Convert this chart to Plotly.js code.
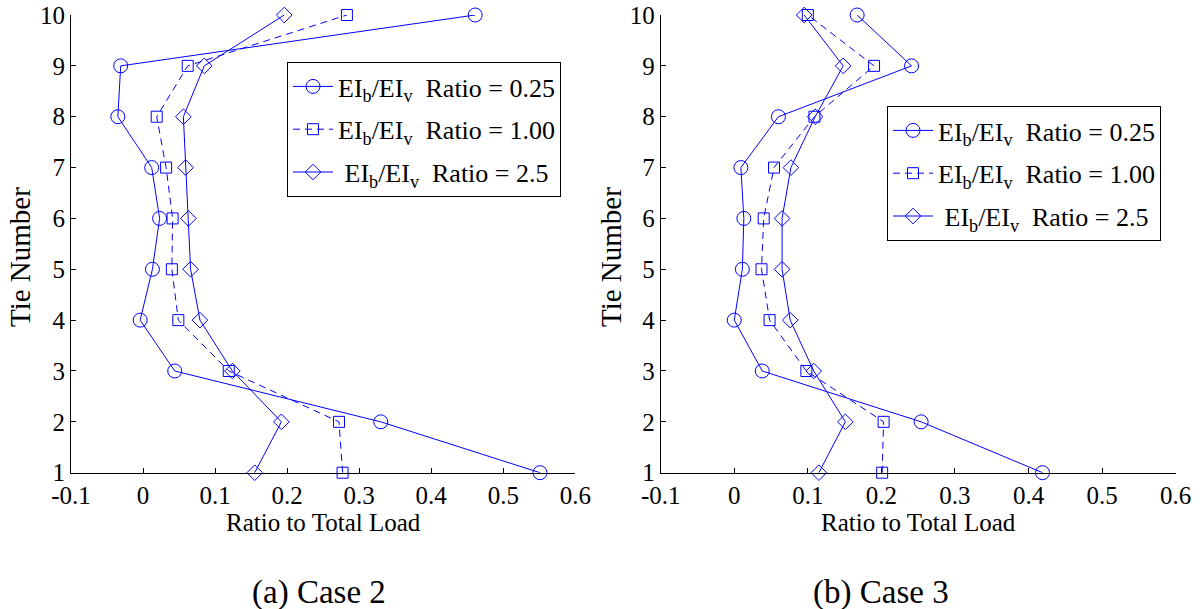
<!DOCTYPE html>
<html>
<head>
<meta charset="utf-8">
<script src="https://cdn.plot.ly/plotly-3.0.1.min.js"></script>
<style>
html,body{margin:0;padding:0;background:#fff;}
#chart{width:1200px;height:609px;}
</style>
</head>
<body>
<div id="chart"></div>
<script>
// Tie numbers (y)
const ties = [1, 2, 3, 4, 5, 6, 7, 8, 9, 10];

// Series labels
const seriesNames = [
  "EI<sub>b</sub>/EI<sub>v</sub>\u00a0\u00a0Ratio = 0.25",
  "EI<sub>b</sub>/EI<sub>v</sub>\u00a0\u00a0Ratio = 1.00",
  "\u00a0EI<sub>b</sub>/EI<sub>v</sub>\u00a0\u00a0Ratio = 2.5"
];

// (a) Case 2 : ratio to total load per tie
const case2_r025 = [0.551, 0.330, 0.044, -0.004, 0.013, 0.023, 0.012, -0.035, -0.031, 0.461];
const case2_r100 = [0.277, 0.272, 0.119, 0.049, 0.040, 0.041, 0.032, 0.019, 0.062, 0.283];
const case2_r250 = [0.155, 0.192, 0.124, 0.079, 0.066, 0.063, 0.059, 0.056, 0.085, 0.196];

// (b) Case 3
const case3_r025 = [0.419, 0.254, 0.038, 0.000, 0.011, 0.013, 0.009, 0.060, 0.241, 0.167];
const case3_r100 = [0.201, 0.203, 0.098, 0.048, 0.037, 0.040, 0.054, 0.109, 0.190, 0.100];
const case3_r250 = [0.115, 0.151, 0.108, 0.076, 0.065, 0.065, 0.077, 0.110, 0.148, 0.095];

// Axis ticks
const xTicks = [-0.1, 0, 0.1, 0.2, 0.3, 0.4, 0.5, 0.6];
const xTickText = ["-0.1", "0", "0.1", "0.2", "0.3", "0.4", "0.5", "0.6"];
const yTicks = [1, 2, 3, 4, 5, 6, 7, 8, 9, 10];

const captions = ["(a) Case 2", "(b) Case 3"];
const xTitle = "Ratio to Total Load";
const yTitle = "Tie Number";

const BLUE = "#0000ff";
const FONT = "'Liberation Serif'";

const styles = [
  {symbol: "circle-open", size: 14, dash: "solid"},
  {symbol: "square-open", size: 11, dash: "7px,5px"},
  {symbol: "diamond-open", size: 12, dash: "solid"}
];

function mk(x, idx, axisSuffix, legendName) {
  const s = styles[idx];
  return {
    x: x, y: ties, type: "scatter", mode: "lines+markers",
    name: seriesNames[idx],
    xaxis: "x" + axisSuffix, yaxis: "y" + axisSuffix,
    legend: legendName,
    legendgroup: legendName + idx,
    line: {color: BLUE, width: 1, dash: s.dash},
    marker: {symbol: s.symbol, size: s.size, color: BLUE, line: {color: BLUE, width: 1}},
    cliponaxis: false
  };
}

const data = [
  mk(case2_r025, 0, "", "legend"),
  mk(case2_r100, 1, "", "legend"),
  mk(case2_r250, 2, "", "legend"),
  mk(case3_r025, 0, "2", "legend2"),
  mk(case3_r100, 1, "2", "legend2"),
  mk(case3_r250, 2, "2", "legend2")
];

const W = 1200, H = 609;
const yDom = [1 - 472.7 / H, 1 - 15 / H];

function xax(dom) {
  return {
    domain: dom, range: [-0.1, 0.6], tickvals: xTicks, ticktext: xTickText,
    ticks: "inside", ticklen: 5, tickwidth: 1, tickcolor: "#000",
    showline: true, linecolor: "#000", linewidth: 1, mirror: false,
    showgrid: false, zeroline: false,
    tickfont: {family: FONT, size: 25, color: "#000"},
    title: {text: xTitle, font: {family: FONT, size: 25, color: "#000"}, standoff: 2},
    automargin: false
  };
}
function yax(dom, anchor) {
  return {
    domain: dom, range: [1, 10], tickvals: yTicks, anchor: anchor,
    ticks: "inside", ticklen: 5, tickwidth: 1, tickcolor: "#000",
    showline: true, linecolor: "#000", linewidth: 1, mirror: false,
    showgrid: false, zeroline: false,
    tickfont: {family: FONT, size: 25, color: "#000"},
    automargin: false
  };
}

function leg(x, y) {
  return {
    x: x, y: y, xanchor: "left", yanchor: "top", xref: "paper", yref: "paper",
    bgcolor: "#fff", bordercolor: "#000", borderwidth: 1,
    font: {family: FONT, size: 26, color: "#000"},
    itemwidth: 40, traceorder: "grouped", tracegroupgap: 6
  };
}

const xa = xax([71 / W, 575.3 / W]);
const xa2 = xax([660.7 / W, 1175.7 / W]);
xa2.anchor = "y2";
xa.anchor = "y";

function ann(text, px, py, size, angle) {
  return {text: text, x: px / W, y: 1 - py / H, xref: "paper", yref: "paper",
    showarrow: false, xanchor: "center", yanchor: "middle", textangle: angle || 0,
    font: {family: FONT, size: size, color: "#000"}};
}

const layout = {
  width: W, height: H,
  margin: {l: 0, r: 0, t: 0, b: 0},
  paper_bgcolor: "#fff", plot_bgcolor: "rgba(0,0,0,0)",
  font: {family: FONT, color: "#000"},
  xaxis: xa, yaxis: yax(yDom, "x"),
  xaxis2: xa2, yaxis2: yax(yDom, "x2"),
  legend: leg(287 / W, 1 - 62 / H),
  legend2: leg(887 / W, 1 - 106 / H),
  annotations: [
    ann(yTitle, 20, 257, 29, -90),
    ann(yTitle, 611, 257, 29, -90),
    ann(captions[0], 319, 592, 33),
    ann(captions[1], 881, 592, 33)
  ],
  showlegend: true
};

Plotly.newPlot("chart", data, layout, {displayModeBar: false, staticPlot: true});
</script>
</body>
</html>
